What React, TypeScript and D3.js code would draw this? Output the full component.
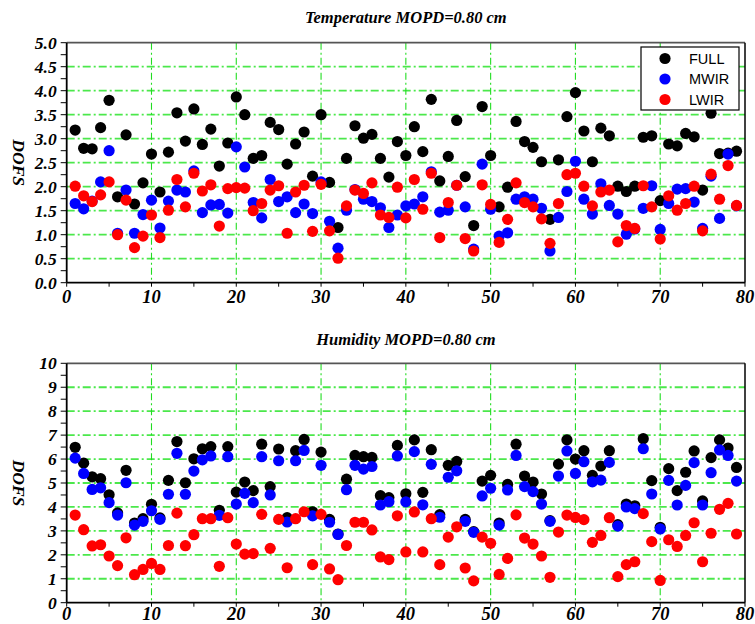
import React from "react";
import * as d3 from "d3";

// Profile indices shared by both panels
const profiles = d3.range(1, 80);

// Temperature retrieval DOFS
const tempFull = [3.18,2.80,2.79,3.23,3.80,1.79,3.08,1.64,2.08,2.68,1.89,2.72,3.54,2.95,3.62,2.88,3.20,2.43,2.91,3.87,3.50,2.59,2.65,3.34,3.19,2.47,2.89,3.14,2.22,3.50,2.09,1.15,2.59,3.27,3.01,3.09,2.59,2.20,2.94,2.65,3.25,2.73,3.82,2.12,2.63,3.38,2.21,1.19,3.67,2.65,1.58,1.99,3.36,2.94,2.82,2.52,1.32,2.56,3.46,3.96,3.16,2.52,3.22,3.06,2.01,1.90,2.01,3.03,3.06,1.71,2.89,2.85,3.11,3.04,1.93,3.53,2.69,2.70,2.74];
const tempMwir = [1.65,1.54,1.70,2.10,2.75,1.03,1.93,1.03,1.42,1.72,1.14,1.70,1.93,1.89,2.33,1.46,1.62,1.63,1.45,2.83,2.41,1.67,1.35,2.15,1.69,1.79,1.46,1.64,1.44,2.10,1.28,0.72,1.51,1.94,1.74,1.69,1.56,1.15,1.41,1.60,1.64,1.79,2.31,1.47,1.51,2.03,1.58,0.70,2.47,1.53,0.97,1.04,1.74,1.79,1.74,1.55,0.66,1.36,1.90,2.53,1.74,1.43,2.06,1.61,1.43,1.01,1.12,1.55,2.02,1.11,1.65,1.95,1.96,1.68,1.13,2.22,1.34,2.68,1.60];
const tempLwir = [2.01,1.81,1.69,1.83,2.10,1.00,1.72,0.73,0.97,1.41,0.94,1.51,2.15,1.58,2.28,1.91,2.04,1.18,1.96,1.98,1.97,1.50,1.65,1.93,2.02,1.03,1.89,2.03,1.07,2.05,1.08,0.51,1.60,1.93,1.86,2.08,1.41,1.36,1.99,1.35,2.15,1.53,2.28,0.94,1.67,2.03,0.92,0.66,2.04,1.63,0.84,1.32,2.08,1.67,1.58,1.33,0.82,1.65,2.25,2.28,2.01,1.60,1.89,1.93,0.85,1.19,1.13,2.02,1.58,0.91,1.81,1.51,1.65,2.01,1.08,2.26,1.74,2.44,1.61];

// Humidity retrieval DOFS
const humFull = [6.49,5.83,5.26,5.18,4.51,3.75,5.53,3.33,3.51,4.11,3.54,5.11,6.73,5.01,6.01,6.43,6.52,3.86,6.52,4.62,5.04,4.68,6.62,4.85,6.42,3.55,6.35,6.82,3.80,6.29,3.48,2.87,5.16,6.15,6.10,6.07,4.47,4.39,6.57,4.55,6.80,4.61,6.39,3.68,5.74,5.90,3.48,2.97,5.08,5.32,3.33,4.94,6.62,5.29,5.04,4.54,3.43,5.79,6.80,6.00,6.35,5.32,5.71,6.35,3.26,4.12,4.05,6.85,5.10,3.15,5.60,4.68,5.45,6.34,4.25,6.06,6.80,6.46,5.65];
const humMwir = [6.04,5.40,4.73,4.80,4.18,3.66,5.01,3.24,3.40,3.84,3.48,4.53,6.24,4.53,5.50,5.97,6.13,3.65,6.10,4.12,4.57,4.18,6.10,4.50,5.93,3.37,5.93,6.36,3.63,5.74,3.36,2.85,4.72,5.74,5.58,5.69,4.08,4.22,6.13,4.21,6.31,4.09,5.78,3.57,5.24,5.51,3.40,2.94,4.46,4.78,3.24,4.71,6.15,4.85,4.64,4.12,3.40,5.29,6.34,5.40,5.89,5.05,5.12,5.86,3.20,4.00,3.93,6.43,4.54,3.08,5.11,4.08,4.90,5.85,4.08,5.43,6.38,6.15,5.08];
const humLwir = [3.66,3.05,2.37,2.42,1.95,1.55,2.71,1.17,1.39,1.64,1.39,2.39,3.74,2.38,2.84,3.51,3.51,1.52,3.55,2.45,2.03,2.05,3.69,2.27,3.48,1.46,3.51,3.80,1.59,3.69,1.41,0.96,2.39,3.36,3.36,3.04,1.91,1.80,3.63,2.12,3.79,2.12,3.51,1.59,2.74,3.17,1.45,0.91,2.74,2.48,1.18,1.85,3.67,2.70,2.45,1.95,1.06,2.95,3.66,3.56,3.47,2.52,2.81,3.55,1.09,1.59,1.71,3.72,2.55,0.93,2.63,2.35,2.81,3.34,1.71,2.90,3.90,4.15,2.87];

const seriesNames = ["FULL", "MWIR", "LWIR"];
const seriesColors = ["#000000", "#0000ff", "#ff0000"];
const xTicks = [0, 10, 20, 30, 40, 50, 60, 70, 80];
const tempYTicks = [0, 0.5, 1.0, 1.5, 2.0, 2.5, 3.0, 3.5, 4.0, 4.5, 5.0];
const humYTicks = [0, 1, 2, 3, 4, 5, 6, 7, 8, 9, 10];

const W = 755;
const H = 624;
const LEFT = 66.7;
const RIGHT = 745;

const serif = "'Liberation Serif', 'DejaVu Serif', serif";
const sans = "'Liberation Sans', Arial, sans-serif";

type PanelProps = {
  title: string;
  titleY: number;
  top: number;
  bottom: number;
  yMax: number;
  yTicks: number[];
  yFmt: (v: number) => string;
  minorStep: number;
  series: number[][];
  xLabelY: number;
  legend?: boolean;
};

function Panel(p: PanelProps) {
  const x = d3.scaleLinear().domain([0, 80]).range([LEFT, RIGHT]);
  const y = d3.scaleLinear().domain([0, p.yMax]).range([p.bottom, p.top]);
  const minor = d3.range(0, p.yMax + 1e-9, p.minorStep);
  const xMinor = d3.range(0, 81, 5);
  const gridH = p.yTicks.filter((v) => v > 0 && v < p.yMax);
  const gridV = xTicks.filter((v) => v > 0 && v < 80);
  return (
    <g>
      <text
        x={(LEFT + RIGHT) / 2}
        y={p.titleY}
        textAnchor="middle"
        fontFamily={serif}
        fontWeight="bold"
        fontStyle="italic"
        fontSize={16.5}
      >
        {p.title}
      </text>
      {/* grid */}
      {gridH.map((v) => (
        <line
          key={"gh" + v}
          x1={LEFT}
          x2={RIGHT}
          y1={y(v)}
          y2={y(v)}
          stroke="#4be84b"
          strokeWidth={1.8}
          strokeDasharray="8,3,2,3"
        />
      ))}
      {gridV.map((v) => (
        <line
          key={"gv" + v}
          x1={x(v)}
          x2={x(v)}
          y1={p.top}
          y2={p.bottom}
          stroke="#22dd22"
          strokeWidth={1.1}
          strokeDasharray="7,3,2,3"
        />
      ))}
      {/* frame */}
      <line x1={LEFT} x2={RIGHT} y1={p.top} y2={p.top} stroke="#555" strokeWidth={1.8} />
      <line x1={RIGHT} x2={RIGHT} y1={p.top} y2={p.bottom} stroke="#000" strokeWidth={1.5} />
      <line x1={LEFT} x2={LEFT} y1={p.top} y2={p.bottom} stroke="#000" strokeWidth={1.8} />
      <line x1={LEFT} x2={RIGHT} y1={p.bottom} y2={p.bottom} stroke="#000" strokeWidth={1.8} />
      {/* y ticks */}
      {minor.map((v) => (
        <line key={"ym" + v} x1={LEFT - 6} x2={LEFT} y1={y(v)} y2={y(v)} stroke="#000" strokeWidth={1} />
      ))}
      {p.yTicks.map((v) => (
        <text
          key={"yl" + v}
          x={LEFT - 10}
          y={y(v)}
          dy="0.35em"
          textAnchor="end"
          fontFamily={serif}
          fontWeight="bold"
          fontStyle="italic"
          fontSize={17.5}
        >
          {p.yFmt(v)}
        </text>
      ))}
      {/* x ticks */}
      {xMinor.map((v) => (
        <line key={"xm" + v} x1={x(v)} x2={x(v)} y1={p.bottom} y2={p.bottom + 4} stroke="#000" strokeWidth={1} />
      ))}
      {xTicks.map((v) => (
        <text
          key={"xl" + v}
          x={x(v)}
          y={p.xLabelY}
          textAnchor="middle"
          fontFamily={serif}
          fontWeight="bold"
          fontStyle="italic"
          fontSize={18.5}
        >
          {v}
        </text>
      ))}
      <text
        transform={`translate(13, ${(p.top + p.bottom) / 2}) rotate(90)`}
        textAnchor="middle"
        fontFamily={serif}
        fontWeight="bold"
        fontStyle="italic"
        fontSize={17.5}
      >
        DOFS
      </text>
      {/* points */}
      {p.series.map((vals, si) => (
        <g key={"s" + si} fill={seriesColors[si]}>
          {vals.map((v, i) => (
            <circle key={i} cx={x(profiles[i])} cy={y(v)} r={5.6} />
          ))}
        </g>
      ))}
      {p.legend && (
        <g>
          <rect x={641} y={47} width={98} height={63} fill="#fff" stroke="#000" strokeWidth={1.2} />
          {seriesNames.map((n, i) => (
            <g key={n}>
              <circle cx={665} cy={58.5 + i * 20.5} r={5.6} fill={seriesColors[i]} />
              <text x={689} y={58.5 + i * 20.5} dy="0.36em" fontFamily={sans} fontSize={14.5}>
                {n}
              </text>
            </g>
          ))}
        </g>
      )}
    </g>
  );
}

export default function App() {
  return (
    <svg
      width={W}
      height={H}
      viewBox={`0 0 ${W} ${H}`}
      style={{ position: "absolute", left: 0, top: 0, background: "#fff" }}
    >
      <rect width={W} height={H} fill="#fff" />
      <Panel
        title="Temperature MOPD=0.80 cm"
        titleY={23}
        top={42.7}
        bottom={282.7}
        yMax={5}
        yTicks={tempYTicks}
        yFmt={d3.format(".1f")}
        minorStep={0.25}
        series={[tempFull, tempMwir, tempLwir]}
        xLabelY={303}
        legend
      />
      <Panel
        title="Humidity MOPD=0.80 cm"
        titleY={345}
        top={363.3}
        bottom={602.7}
        yMax={10}
        yTicks={humYTicks}
        yFmt={d3.format("d")}
        minorStep={0.5}
        series={[humFull, humMwir, humLwir]}
        xLabelY={619.5}
      />
    </svg>
  );
}
